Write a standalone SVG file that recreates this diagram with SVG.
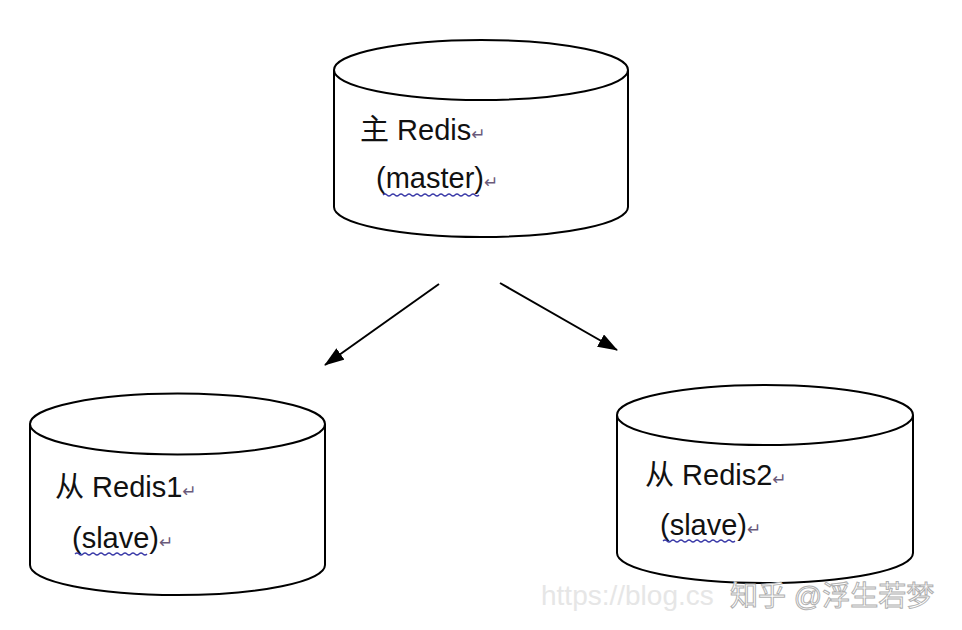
<svg xmlns="http://www.w3.org/2000/svg" width="962" height="630" viewBox="0 0 962 630">
<style>
.cyl{fill:#ffffff;stroke:#000;stroke-width:2}
.t{font-family:"Liberation Sans","Noto Sans CJK SC",sans-serif;font-size:29px;fill:#111}
.ret{font-family:"DejaVu Sans",sans-serif;font-size:17px;fill:#6a5a7a}
.wavy{fill:none;stroke:#3a3aa8;stroke-width:1.3}
.conn{stroke:#000;stroke-width:2;fill:none}
.wm{font-family:"Liberation Sans","Noto Sans CJK SC",sans-serif;font-size:28px}
</style>
<defs>
<marker id="ah" viewBox="0 0 20 14" refX="19" refY="7" markerWidth="20" markerHeight="14" markerUnits="userSpaceOnUse" orient="auto">
<path d="M0,0 L20,7 L0,14 Z" fill="#000"/>
</marker>
</defs>
<rect width="962" height="630" fill="#ffffff"/>

<g id="master">
<path class="cyl" d="M334,70 L334,207 A147,30 0 0 0 628,207 L628,70"/>
<ellipse class="cyl" cx="481" cy="70" rx="147" ry="30"/>
<text class="t" x="360" y="140">主 Redis<tspan class="ret">↵</tspan></text>
<text class="t" x="376" y="188">(master)<tspan class="ret">↵</tspan></text>
<path class="wavy" d="M383,195 q2,-2 4,0 t4,0 t4,0 t4,0 t4,0 t4,0 t4,0 t4,0 t4,0 t4,0 t4,0 t4,0 t4,0 t4,0 t4,0 t4,0 t4,0 t4,0 t4,0 t4,0 t4,0 t4,0 t4,0 t4,0"/>
</g>

<g id="slave1">
<path class="cyl" d="M30,424 L30,565 A147.5,30 0 0 0 325,565 L325,424"/>
<ellipse class="cyl" cx="177.5" cy="424" rx="147.5" ry="30.5"/>
<text class="t" x="55" y="497">从 Redis1<tspan class="ret">↵</tspan></text>
<text class="t" x="72" y="548">(slave)<tspan class="ret">↵</tspan></text>
<path class="wavy" d="M75,554 q2,-2 4,0 t4,0 t4,0 t4,0 t4,0 t4,0 t4,0 t4,0 t4,0 t4,0 t4,0 t4,0 t4,0 t4,0 t4,0 t4,0 t4,0 t4,0"/>
</g>

<g id="slave2">
<path class="cyl" d="M617,415 L617,553 A148,30 0 0 0 913,553 L913,415"/>
<ellipse class="cyl" cx="765" cy="415" rx="148" ry="30"/>
<text class="t" x="645" y="485">从 Redis2<tspan class="ret">↵</tspan></text>
<text class="t" x="660" y="535">(slave)<tspan class="ret">↵</tspan></text>
<path class="wavy" d="M663,541 q2,-2 4,0 t4,0 t4,0 t4,0 t4,0 t4,0 t4,0 t4,0 t4,0 t4,0 t4,0 t4,0 t4,0 t4,0 t4,0 t4,0 t4,0 t4,0"/>
</g>

<g id="connectors">
<line class="conn" x1="439" y1="284" x2="325" y2="365" marker-end="url(#ah)"/>
<line class="conn" x1="500" y1="283" x2="617" y2="350" marker-end="url(#ah)"/>
</g>

<g id="watermark">
<text class="wm" x="541" y="605" fill="#e6e6e6">https://blog.cs</text>
<text class="wm" x="730" y="606" fill="#ffffff" stroke="#b0b0b0" stroke-width="1">知乎 @浮生若梦</text>
</g>
</svg>
